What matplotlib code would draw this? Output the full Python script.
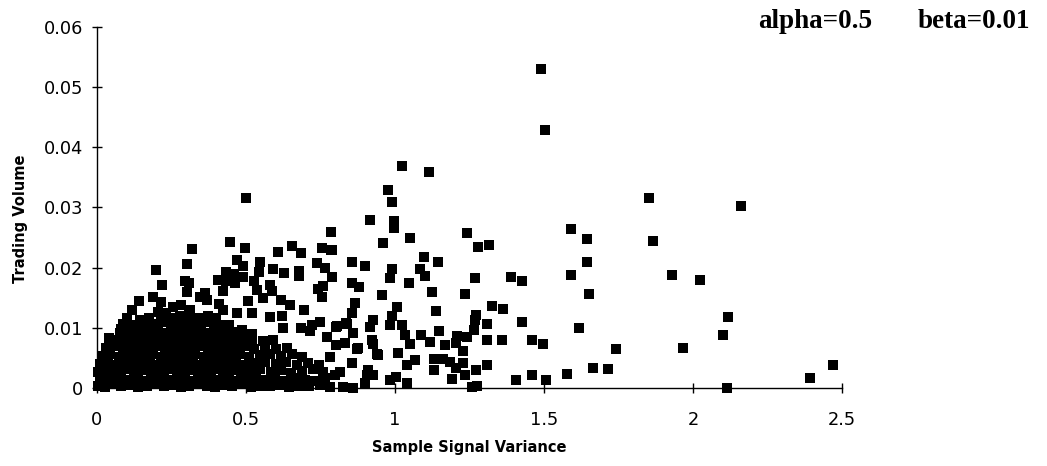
import matplotlib
matplotlib.use("Agg")
import matplotlib.pyplot as plt

# ---- data: dense cluster near the origin (read row by row) ----
cluster_x = [0.004,0.028,0.055,0.083,0.112,0.140,0.168,0.197,0.226,0.254,0.283,0.311,0.340,0.369,0.398,0.427,0.455,0.486,0.517,0.548,0.580,0.612,0.645,0.679,0.712,0.748,0.781,
             0.012,0.041,0.069,0.097,0.126,0.154,0.183,0.211,0.240,0.268,0.297,0.326,0.355,0.384,0.413,0.442,0.471,0.503,0.534,0.566,0.598,0.631,0.664,0.697,0.731,0.766,
             0.003,0.026,0.054,0.082,0.110,0.138,0.167,0.195,0.224,0.252,0.281,0.309,0.338,0.367,0.396,0.425,0.454,0.485,0.516,0.549,0.583,0.617,0.652,0.688,0.724,0.760,
             0.010,0.038,0.066,0.094,0.123,0.151,0.180,0.208,0.237,0.265,0.294,0.322,0.351,0.380,0.409,0.438,0.468,0.500,0.533,0.566,0.601,0.636,0.672,0.708,0.744,
             0.018,0.046,0.074,0.103,0.131,0.160,0.188,0.217,0.245,0.274,0.302,0.331,0.360,0.389,0.418,0.448,0.479,0.512,0.546,0.581,0.617,0.654,0.690,
             0.030,0.058,0.087,0.115,0.144,0.172,0.201,0.229,0.258,0.286,0.315,0.344,0.373,0.402,0.432,0.463,0.495,0.529,0.564,0.600,0.638,
             0.052,0.080,0.108,0.137,0.165,0.194,0.222,0.251,0.279,0.308,0.337,0.366,0.395,0.425,0.456,0.488,0.521,0.556,0.592,
             0.078,0.106,0.134,0.163,0.191,0.220,0.248,0.277,0.305,0.334,0.363,0.393,0.423,0.454,0.487,0.520,
             0.120,0.150,0.178,0.207,0.236,0.265,0.293,0.322,0.351,0.381,0.411,0.442,
             0.176,0.214,0.247,0.278,0.309,0.341,0.372,0.400]
cluster_y = [0.0004,0.0002,0.0006,0.0003,0.0005,0.0002,0.0004,0.0006,0.0003,0.0005,0.0002,0.0004,0.0006,0.0003,0.0002,0.0005,0.0003,0.0006,0.0002,0.0004,0.0003,0.0005,0.0002,0.0004,0.0003,0.0005,0.0002,
             0.0016,0.0013,0.0017,0.0014,0.0018,0.0012,0.0015,0.0017,0.0013,0.0016,0.0018,0.0012,0.0015,0.0017,0.0014,0.0016,0.0012,0.0015,0.0018,0.0013,0.0016,0.0012,0.0017,0.0014,0.0011,0.0016,
             0.0027,0.0030,0.0026,0.0029,0.0031,0.0027,0.0030,0.0026,0.0029,0.0031,0.0027,0.0030,0.0026,0.0028,0.0031,0.0027,0.0030,0.0026,0.0029,0.0031,0.0027,0.0030,0.0025,0.0029,0.0032,0.0027,
             0.0040,0.0043,0.0039,0.0042,0.0044,0.0040,0.0043,0.0039,0.0042,0.0044,0.0040,0.0043,0.0039,0.0041,0.0044,0.0040,0.0043,0.0039,0.0042,0.0044,0.0040,0.0043,0.0039,0.0042,0.0038,
             0.0053,0.0056,0.0052,0.0055,0.0057,0.0053,0.0056,0.0052,0.0055,0.0057,0.0053,0.0056,0.0052,0.0054,0.0057,0.0053,0.0056,0.0052,0.0055,0.0057,0.0053,0.0056,0.0051,
             0.0066,0.0069,0.0065,0.0068,0.0070,0.0066,0.0069,0.0065,0.0068,0.0070,0.0066,0.0069,0.0065,0.0067,0.0070,0.0066,0.0069,0.0065,0.0068,0.0064,0.0067,
             0.0079,0.0082,0.0078,0.0081,0.0083,0.0079,0.0082,0.0078,0.0081,0.0083,0.0079,0.0082,0.0078,0.0080,0.0083,0.0079,0.0081,0.0078,0.0080,
             0.0092,0.0095,0.0091,0.0094,0.0096,0.0092,0.0095,0.0091,0.0094,0.0096,0.0092,0.0095,0.0091,0.0093,0.0096,0.0090,
             0.0105,0.0108,0.0104,0.0107,0.0109,0.0105,0.0108,0.0104,0.0107,0.0109,0.0105,0.0104,
             0.0117,0.0120,0.0116,0.0119,0.0121,0.0117,0.0119,0.0116]

# ---- data: scattered points above the cluster (x < 0.85) ----
upper_x = [0.318,0.303,0.198,0.220,0.296,0.311,0.302,0.188,0.216,0.143,0.363,0.346,0.369,0.117,0.204,0.231,0.100,0.408,0.257,0.284,0.313,0.145,0.172,0.089,0.083,
           0.501,0.446,0.497,0.656,0.685,0.754,0.786,0.607,0.472,0.548,0.490,0.738,0.766,0.592,0.629,0.680,0.434,0.462,0.435,0.491,0.788,0.529,0.679,0.544,0.581,
           0.424,0.539,0.587,0.741,0.760,0.559,0.755,0.509,0.618,0.648,0.696,0.424,0.469,0.463,0.786,0.805,0.838,0.721,0.749,0.771,0.685,0.626,0.715,0.410,0.520,
           0.580,0.620,0.042,0.804,0.783,0.816,0.799,0.855,0.944,0.877,0.788,0.788]
upper_y = [0.0231,0.0206,0.0196,0.0171,0.0177,0.0174,0.0160,0.0151,0.0143,0.0145,0.0158,0.0151,0.0146,0.0130,0.0127,0.0124,0.0116,0.0179,0.0135,0.0138,0.0130,0.0113,0.0113,0.0107,0.0098,
           0.0316,0.0243,0.0232,0.0236,0.0224,0.0233,0.0229,0.0226,0.0213,0.0210,0.0202,0.0207,0.0199,0.0198,0.0191,0.0195,0.0193,0.0189,0.0178,0.0184,0.0184,0.0177,0.0186,0.0192,0.0172,
           0.0161,0.0163,0.0162,0.0164,0.0170,0.0149,0.0152,0.0145,0.0146,0.0138,0.0130,0.0130,0.0124,0.0174,0.0260,0.0103,0.0107,0.0105,0.0110,0.0085,0.0099,0.0099,0.0094,0.0140,0.0125,
           0.0118,0.0120,0.0083,0.0071,0.0052,0.0027,0.0022,0.0041,0.0055,0.0066,0.0229,0.0185]

# ---- data: points to the right (x > 0.8) ----
right_x = [1.490,1.503,1.023,1.116,0.976,0.990,0.918,0.998,0.997,1.243,1.590,1.646,1.051,0.959,1.278,1.314,1.096,1.145,1.646,0.857,0.900,0.990,1.085,0.985,1.101,
           1.269,1.391,1.428,1.590,0.855,0.881,1.049,1.124,1.235,1.650,0.956,0.867,1.006,1.325,1.362,1.139,1.271,0.855,0.990,0.928,1.426,1.310,1.269,0.803,0.836,
           0.917,0.984,1.023,1.619,0.861,1.034,1.149,1.088,1.208,1.241,1.267,0.922,1.051,1.118,1.168,1.204,1.310,1.358,1.460,1.498,0.833,0.928,0.874,0.941,1.012,
           1.132,1.230,1.163,1.185,1.068,1.040,1.230,1.310,1.205,1.132,1.271,1.666,1.716,1.577,1.459,1.235,1.407,1.507,1.191,0.911,0.905,0.928,0.984,1.005,1.042,
           0.900,0.825,0.859,1.258,1.275,
           1.853,2.160,1.867,1.929,2.022,2.118,2.100,1.742,1.968,2.469,2.393,2.114]
right_y = [0.0530,0.0429,0.0369,0.0359,0.0329,0.0309,0.0279,0.0278,0.0266,0.0257,0.0264,0.0247,0.0249,0.0241,0.0235,0.0238,0.0217,0.0209,0.0210,0.0209,0.0202,0.0198,0.0198,0.0183,0.0186,
           0.0183,0.0185,0.0178,0.0187,0.0174,0.0168,0.0174,0.0159,0.0157,0.0156,0.0154,0.0141,0.0135,0.0136,0.0131,0.0128,0.0121,0.0124,0.0119,0.0113,0.0110,0.0106,0.0113,0.0102,0.0108,
           0.0102,0.0105,0.0105,0.0100,0.0091,0.0088,0.0094,0.0088,0.0087,0.0084,0.0096,0.0080,0.0073,0.0077,0.0071,0.0074,0.0080,0.0080,0.0080,0.0073,0.0074,0.0073,0.0065,0.0057,0.0058,
           0.0049,0.0062,0.0048,0.0044,0.0047,0.0038,0.0041,0.0038,0.0033,0.0030,0.0030,0.0034,0.0032,0.0023,0.0022,0.0022,0.0014,0.0014,0.0015,0.0030,0.0022,0.0022,0.0013,0.0019,0.0009,
           0.0008,0.0002,0.0000,0.0001,0.0003,
           0.0316,0.0303,0.0244,0.0188,0.0179,0.0118,0.0088,0.0065,0.0067,0.0039,0.0017,0.0000]

x_ticks = [0, 0.5, 1, 1.5, 2, 2.5]
x_tick_labels = ["0", "0.5", "1", "1.5", "2", "2.5"]
y_ticks = [0, 0.01, 0.02, 0.03, 0.04, 0.05, 0.06]
y_tick_labels = ["0", "0.01", "0.02", "0.03", "0.04", "0.05", "0.06"]

xs = cluster_x + upper_x + right_x
ys = cluster_y + upper_y + right_y

plt.rcParams['font.family'] = ['DejaVu Sans']

fig = plt.figure(figsize=(10.47, 4.66), dpi=100)
ax = fig.add_axes([0.0924, 0.1674, 0.7119, 0.7747])
ax.scatter(xs, ys, marker='s', s=44, color='black', linewidths=0, zorder=3, clip_on=False)

ax.set_xlim(0, 2.5)
ax.set_ylim(0, 0.06)
ax.set_xticks(x_ticks)
ax.set_xticklabels(x_tick_labels)
ax.set_yticks(y_ticks)
ax.set_yticklabels(y_tick_labels)
for s in ['top', 'right']:
    ax.spines[s].set_visible(False)
for s in ['left', 'bottom']:
    ax.spines[s].set_linewidth(1.0)
ax.tick_params(axis='both', direction='inout', length=7, width=1.0, labelsize=12.8)
ax.tick_params(axis='x', pad=13)
ax.tick_params(axis='y', pad=6)

ax.set_xlabel("Sample Signal Variance", fontsize=10.5, fontweight='bold')
ax.set_ylabel("Trading Volume", fontsize=10.5, fontweight='bold')
ax.xaxis.set_label_coords(0.5, -0.145)
ax.yaxis.set_label_coords(-0.092, 0.47)

fig.text(758/1047, 1 - 28/466, "alpha=0.5", fontsize=19.5, fontweight='bold',
         family='Liberation Serif', ha='left', va='baseline')
fig.text(918/1047, 1 - 28/466, "beta=0.01", fontsize=19.5, fontweight='bold',
         family='Liberation Serif', ha='left', va='baseline')

fig.savefig("out.png", dpi=100)
